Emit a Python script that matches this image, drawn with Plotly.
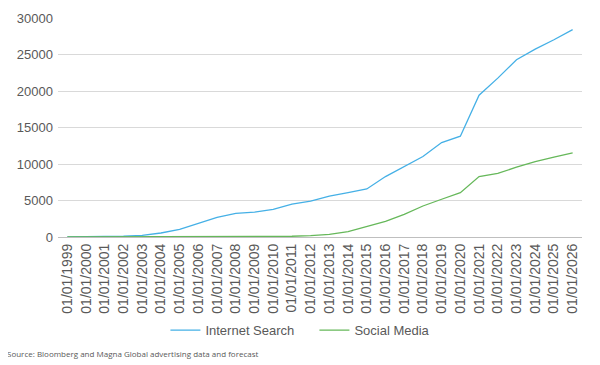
import plotly.graph_objects as go

years = list(range(1999, 2027))
categories = [f"01/01/{y}" for y in years]

internet_search = [0, 10, 30, 100, 230, 550, 1040, 1860, 2680, 3230, 3410, 3770,
                   4500, 4900, 5600, 6080, 6580, 8280, 9650, 11020, 12940, 13810,
                   19430, 21760, 24280, 25740, 27020, 28400]
social_media = [0, 0, 0, 0, 0, 0, 0, 0, 0, 0, 0, 20,
                100, 200, 370, 730, 1420, 2150, 3110, 4250, 5170, 6080,
                8280, 8730, 9560, 10330, 10930, 11520]

y_ticks = [0, 5000, 10000, 15000, 20000, 25000, 30000]
y_tick_labels = [str(v) for v in y_ticks]

font_family = "Liberation Sans, Arial, sans-serif"
grey = "#595959"

fig = go.Figure()
fig.add_trace(go.Scatter(x=categories, y=internet_search, mode="lines",
                         name="Internet Search",
                         line=dict(color="#45B0E6", width=1.3)))
fig.add_trace(go.Scatter(x=categories, y=social_media, mode="lines",
                         name="Social Media",
                         line=dict(color="#66B85A", width=1.3)))

fig.update_layout(
    width=600, height=365,
    margin=dict(l=50, r=26, t=10, b=136),
    paper_bgcolor="white", plot_bgcolor="white",
    font=dict(family=font_family, size=13, color=grey),
    showlegend=True,
    legend=dict(orientation="h", x=0.205, xanchor="left", y=-0.425, yanchor="middle",
                font=dict(size=13, color=grey), itemwidth=30, tracegroupgap=0,
                entrywidth=104, entrywidthmode="pixels"),
    xaxis=dict(type="category", range=[-0.5, len(categories) - 0.5],
               tickangle=-90, showgrid=False,
               showline=True, linecolor="#BFBFBF", linewidth=1,
               ticks="", tickfont=dict(size=14, color=grey), automargin=False),
    yaxis=dict(range=[0, 30000], tickvals=y_ticks, ticktext=y_tick_labels,
               showgrid=True, gridcolor="#D9D9D9", gridwidth=1, zeroline=False,
               showline=False, ticks="", tickfont=dict(size=13, color=grey),
               ticklabelstandoff=4, automargin=False),
    annotations=[dict(text="Source: Bloomberg and Magna Global advertising data and forecast",
                      xref="paper", yref="paper", x=-0.1011, y=-0.534,
                      xanchor="left", yanchor="middle", showarrow=False,
                      font=dict(size=8, color=grey, family="Open Sans, sans-serif"))],
)

fig.write_html("out.html")
